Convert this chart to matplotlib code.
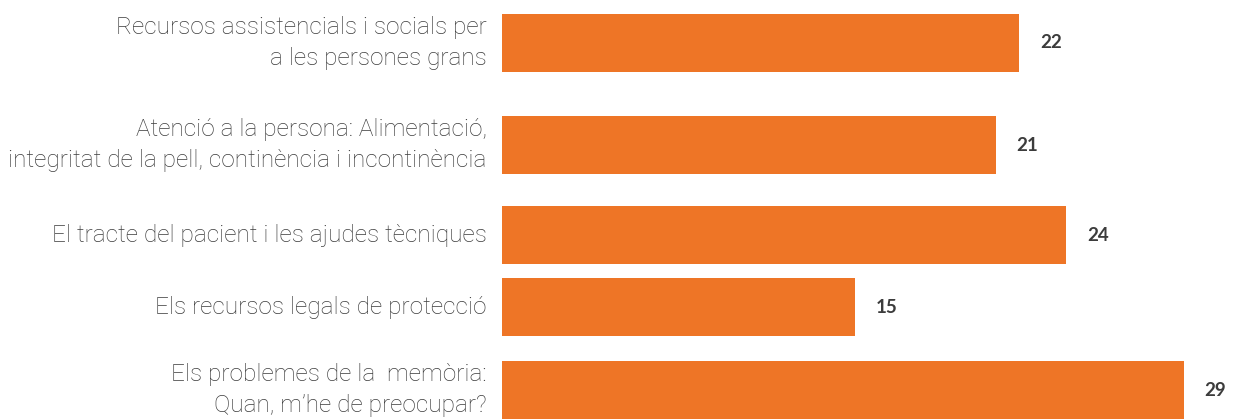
import matplotlib.pyplot as plt

categories = [
    "Recursos assistencials i socials per\na les persones grans",
    "Atenció a la persona: Alimentació,\nintegritat de la pell, continència i incontinència",
    "El tracte del pacient i les ajudes tècniques",
    "Els recursos legals de protecció",
    "Els problemes de la  memòria:\nQuan, m\u2019he de preocupar?",
]
values = [22, 21, 24, 15, 29]

# layout: bar centres in pixel rows (top = 0), uneven like the original
row_pos = [43, 145, 235, 307, 390]
bar_h = 58

bar_color = "#EE7526"
text_color = "#3c3c3c"

fig = plt.figure(figsize=(12.34, 4.19), dpi=100)
ax = fig.add_axes([502 / 1234, 0, 1 - 502 / 1234, 1])
ax.set_xlim(0, 732 / 23.5)
ax.set_ylim(419, 0)
ax.axis("off")

ax.barh(row_pos, values, height=bar_h, color=bar_color)

for y, v, lab in zip(row_pos, values, categories):
    ax.text(v + 0.9, y, str(v), ha="left", va="center", fontsize=13.5,
            fontweight="bold", color=text_color, family="Lato")
    ax.annotate(lab, xy=(0, y), xytext=(-11, 0), textcoords="offset points",
                ha="right", va="center", fontsize=17.6, color=text_color,
                family="Roboto", fontweight="light", linespacing=1.4,
                multialignment="right", annotation_clip=False)

fig.savefig("out.png", dpi=100)
